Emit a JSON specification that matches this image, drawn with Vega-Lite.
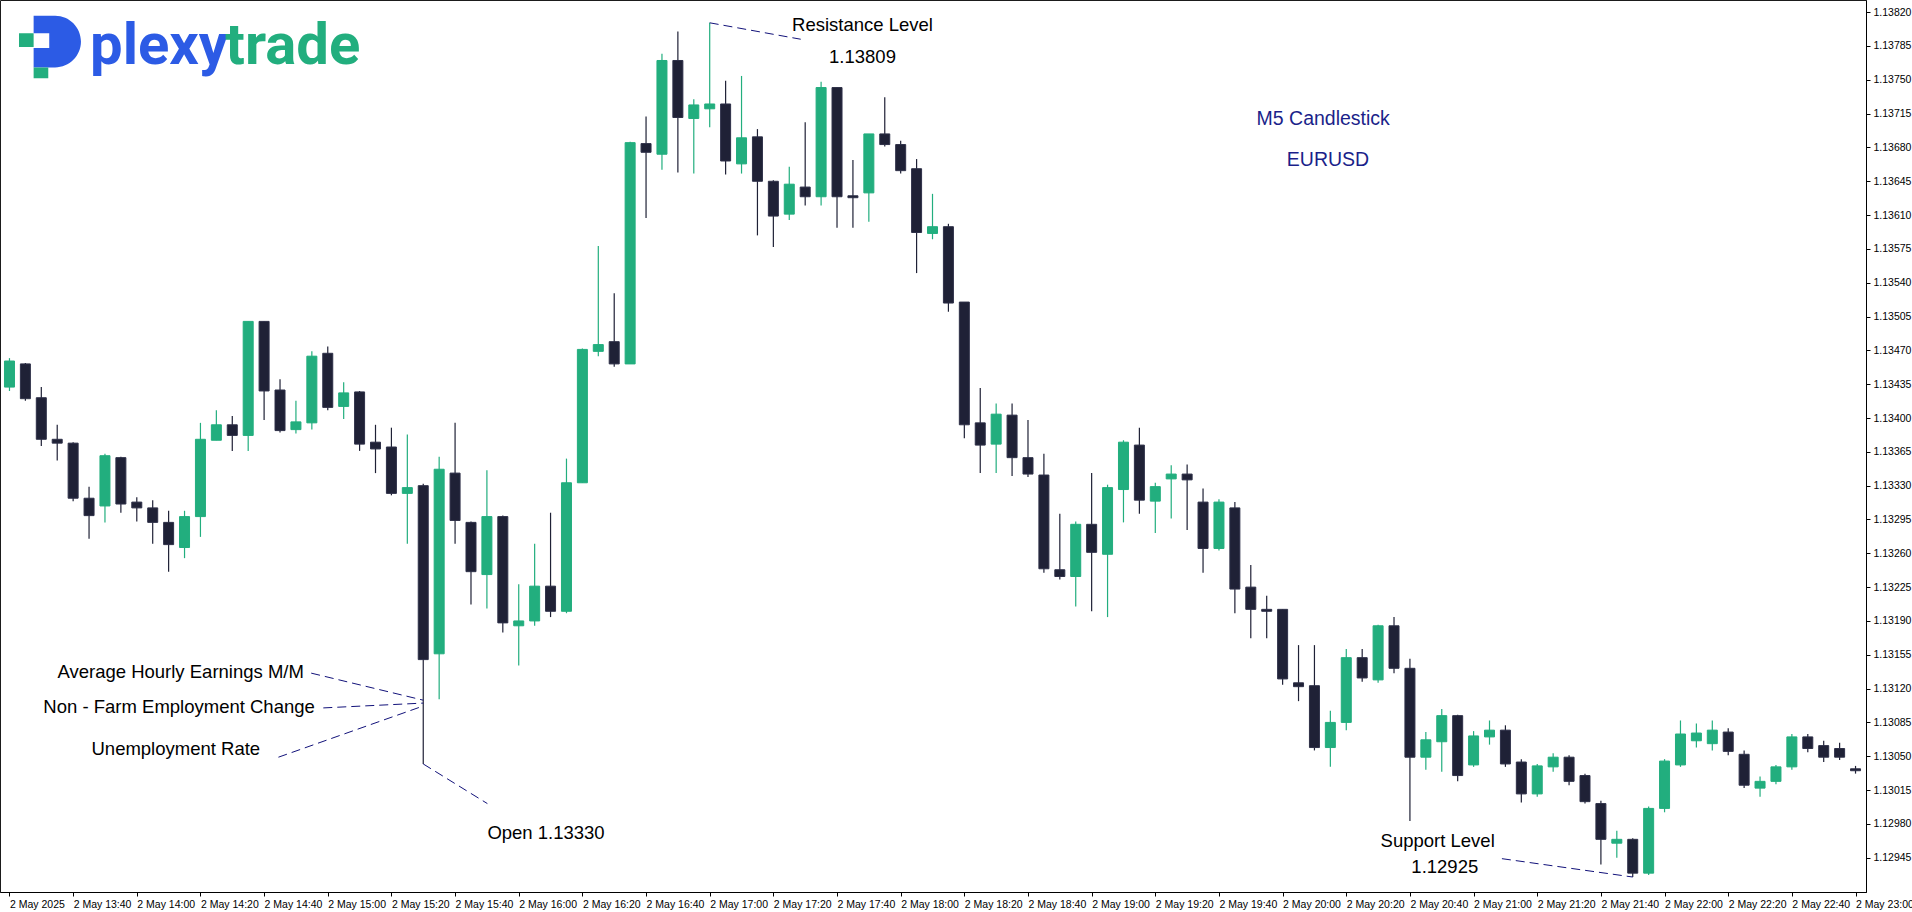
{
  "$schema": "https://vega.github.io/schema/vega-lite/v6.json",
  "width": 1866,
  "height": 892,
  "autosize": {"type": "none"},
  "padding": {"left": 0, "top": 0, "right": 46, "bottom": 20},
  "background": "white",
  "config": {
    "view": {"stroke": "#1b1b1b", "strokeWidth": 1},
    "font": "Liberation Sans"
  },
  "resolve": {"axis": {"x": "independent", "y": "independent"}},
  "datasets": {
    "candles": [
      {"t":"2025-05-02T13:20:00Z","o":1.13432,"h":1.13462,"l":1.13428,"c":1.13459},
      {"t":"2025-05-02T13:25:00Z","o":1.13456,"h":1.13457,"l":1.13418,"c":1.13420},
      {"t":"2025-05-02T13:30:00Z","o":1.13421,"h":1.13432,"l":1.13371,"c":1.13378},
      {"t":"2025-05-02T13:35:00Z","o":1.13378,"h":1.13393,"l":1.13356,"c":1.13374},
      {"t":"2025-05-02T13:40:00Z","o":1.13374,"h":1.13375,"l":1.13314,"c":1.13317},
      {"t":"2025-05-02T13:45:00Z","o":1.13317,"h":1.13329,"l":1.13275,"c":1.13299},
      {"t":"2025-05-02T13:50:00Z","o":1.13309,"h":1.13363,"l":1.13292,"c":1.13361},
      {"t":"2025-05-02T13:55:00Z","o":1.13359,"h":1.13360,"l":1.13302,"c":1.13311},
      {"t":"2025-05-02T14:00:00Z","o":1.13313,"h":1.13318,"l":1.13293,"c":1.13307},
      {"t":"2025-05-02T14:05:00Z","o":1.13307,"h":1.13315,"l":1.13270,"c":1.13292},
      {"t":"2025-05-02T14:10:00Z","o":1.13292,"h":1.13304,"l":1.13241,"c":1.13269},
      {"t":"2025-05-02T14:15:00Z","o":1.13266,"h":1.13304,"l":1.13255,"c":1.13298},
      {"t":"2025-05-02T14:20:00Z","o":1.13298,"h":1.13395,"l":1.13277,"c":1.13378},
      {"t":"2025-05-02T14:25:00Z","o":1.13377,"h":1.13408,"l":1.13377,"c":1.13393},
      {"t":"2025-05-02T14:30:00Z","o":1.13393,"h":1.13402,"l":1.13366,"c":1.13382},
      {"t":"2025-05-02T14:35:00Z","o":1.13382,"h":1.13500,"l":1.13366,"c":1.13500},
      {"t":"2025-05-02T14:40:00Z","o":1.13500,"h":1.13500,"l":1.13398,"c":1.13428},
      {"t":"2025-05-02T14:45:00Z","o":1.13429,"h":1.13440,"l":1.13385,"c":1.13387},
      {"t":"2025-05-02T14:50:00Z","o":1.13388,"h":1.13418,"l":1.13384,"c":1.13396},
      {"t":"2025-05-02T14:55:00Z","o":1.13395,"h":1.13469,"l":1.13388,"c":1.13464},
      {"t":"2025-05-02T15:00:00Z","o":1.13467,"h":1.13474,"l":1.13408,"c":1.13411},
      {"t":"2025-05-02T15:05:00Z","o":1.13412,"h":1.13437,"l":1.13399,"c":1.13426},
      {"t":"2025-05-02T15:10:00Z","o":1.13427,"h":1.13428,"l":1.13366,"c":1.13373},
      {"t":"2025-05-02T15:15:00Z","o":1.13375,"h":1.13393,"l":1.13343,"c":1.13368},
      {"t":"2025-05-02T15:20:00Z","o":1.13370,"h":1.13390,"l":1.13320,"c":1.13322},
      {"t":"2025-05-02T15:25:00Z","o":1.13322,"h":1.13383,"l":1.13270,"c":1.13328},
      {"t":"2025-05-02T15:30:00Z","o":1.13330,"h":1.13332,"l":1.13042,"c":1.13150},
      {"t":"2025-05-02T15:35:00Z","o":1.13156,"h":1.13360,"l":1.13109,"c":1.13347},
      {"t":"2025-05-02T15:40:00Z","o":1.13343,"h":1.13395,"l":1.13270,"c":1.13294},
      {"t":"2025-05-02T15:45:00Z","o":1.13292,"h":1.13293,"l":1.13207,"c":1.13241},
      {"t":"2025-05-02T15:50:00Z","o":1.13238,"h":1.13346,"l":1.13203,"c":1.13298},
      {"t":"2025-05-02T15:55:00Z","o":1.13298,"h":1.13299,"l":1.13178,"c":1.13188},
      {"t":"2025-05-02T16:00:00Z","o":1.13185,"h":1.13228,"l":1.13144,"c":1.13190},
      {"t":"2025-05-02T16:05:00Z","o":1.13190,"h":1.13270,"l":1.13185,"c":1.13226},
      {"t":"2025-05-02T16:10:00Z","o":1.13226,"h":1.13302,"l":1.13194,"c":1.13200},
      {"t":"2025-05-02T16:15:00Z","o":1.13200,"h":1.13358,"l":1.13198,"c":1.13333},
      {"t":"2025-05-02T16:20:00Z","o":1.13333,"h":1.13472,"l":1.13333,"c":1.13471},
      {"t":"2025-05-02T16:25:00Z","o":1.13469,"h":1.13578,"l":1.13464,"c":1.13476},
      {"t":"2025-05-02T16:30:00Z","o":1.13479,"h":1.13529,"l":1.13453,"c":1.13456},
      {"t":"2025-05-02T16:35:00Z","o":1.13456,"h":1.13686,"l":1.13456,"c":1.13685},
      {"t":"2025-05-02T16:40:00Z","o":1.13684,"h":1.13712,"l":1.13607,"c":1.13675},
      {"t":"2025-05-02T16:45:00Z","o":1.13673,"h":1.13777,"l":1.13657,"c":1.13770},
      {"t":"2025-05-02T16:50:00Z","o":1.13770,"h":1.13800,"l":1.13654,"c":1.13711},
      {"t":"2025-05-02T16:55:00Z","o":1.13710,"h":1.13730,"l":1.13653,"c":1.13724},
      {"t":"2025-05-02T17:00:00Z","o":1.13720,"h":1.13809,"l":1.13701,"c":1.13725},
      {"t":"2025-05-02T17:05:00Z","o":1.13725,"h":1.13749,"l":1.13652,"c":1.13666},
      {"t":"2025-05-02T17:10:00Z","o":1.13663,"h":1.13754,"l":1.13653,"c":1.13690},
      {"t":"2025-05-02T17:15:00Z","o":1.13691,"h":1.13699,"l":1.13589,"c":1.13645},
      {"t":"2025-05-02T17:20:00Z","o":1.13645,"h":1.13646,"l":1.13577,"c":1.13609},
      {"t":"2025-05-02T17:25:00Z","o":1.13611,"h":1.13660,"l":1.13605,"c":1.13642},
      {"t":"2025-05-02T17:30:00Z","o":1.13639,"h":1.13706,"l":1.13620,"c":1.13629},
      {"t":"2025-05-02T17:35:00Z","o":1.13629,"h":1.13748,"l":1.13620,"c":1.13742},
      {"t":"2025-05-02T17:40:00Z","o":1.13742,"h":1.13742,"l":1.13597,"c":1.13629},
      {"t":"2025-05-02T17:45:00Z","o":1.13630,"h":1.13667,"l":1.13597,"c":1.13628},
      {"t":"2025-05-02T17:50:00Z","o":1.13633,"h":1.13694,"l":1.13603,"c":1.13694},
      {"t":"2025-05-02T17:55:00Z","o":1.13694,"h":1.13732,"l":1.13681,"c":1.13683},
      {"t":"2025-05-02T18:00:00Z","o":1.13683,"h":1.13687,"l":1.13653,"c":1.13656},
      {"t":"2025-05-02T18:05:00Z","o":1.13658,"h":1.13668,"l":1.13550,"c":1.13592},
      {"t":"2025-05-02T18:10:00Z","o":1.13591,"h":1.13632,"l":1.13585,"c":1.13598},
      {"t":"2025-05-02T18:15:00Z","o":1.13598,"h":1.13601,"l":1.13510,"c":1.13519},
      {"t":"2025-05-02T18:20:00Z","o":1.13520,"h":1.13520,"l":1.13379,"c":1.13393},
      {"t":"2025-05-02T18:25:00Z","o":1.13395,"h":1.13431,"l":1.13343,"c":1.13372},
      {"t":"2025-05-02T18:30:00Z","o":1.13373,"h":1.13415,"l":1.13343,"c":1.13404},
      {"t":"2025-05-02T18:35:00Z","o":1.13403,"h":1.13415,"l":1.13340,"c":1.13359},
      {"t":"2025-05-02T18:40:00Z","o":1.13359,"h":1.13398,"l":1.13339,"c":1.13342},
      {"t":"2025-05-02T18:45:00Z","o":1.13341,"h":1.13363,"l":1.13240,"c":1.13244},
      {"t":"2025-05-02T18:50:00Z","o":1.13243,"h":1.13301,"l":1.13233,"c":1.13236},
      {"t":"2025-05-02T18:55:00Z","o":1.13236,"h":1.13293,"l":1.13205,"c":1.13290},
      {"t":"2025-05-02T19:00:00Z","o":1.13290,"h":1.13343,"l":1.13200,"c":1.13261},
      {"t":"2025-05-02T19:05:00Z","o":1.13259,"h":1.13331,"l":1.13194,"c":1.13328},
      {"t":"2025-05-02T19:10:00Z","o":1.13326,"h":1.13377,"l":1.13292,"c":1.13375},
      {"t":"2025-05-02T19:15:00Z","o":1.13372,"h":1.13390,"l":1.13301,"c":1.13315},
      {"t":"2025-05-02T19:20:00Z","o":1.13314,"h":1.13333,"l":1.13281,"c":1.13329},
      {"t":"2025-05-02T19:25:00Z","o":1.13337,"h":1.13351,"l":1.13296,"c":1.13342},
      {"t":"2025-05-02T19:30:00Z","o":1.13342,"h":1.13352,"l":1.13284,"c":1.13336},
      {"t":"2025-05-02T19:35:00Z","o":1.13313,"h":1.13327,"l":1.13240,"c":1.13265},
      {"t":"2025-05-02T19:40:00Z","o":1.13265,"h":1.13316,"l":1.13263,"c":1.13313},
      {"t":"2025-05-02T19:45:00Z","o":1.13307,"h":1.13313,"l":1.13198,"c":1.13223},
      {"t":"2025-05-02T19:50:00Z","o":1.13225,"h":1.13248,"l":1.13172,"c":1.13202},
      {"t":"2025-05-02T19:55:00Z","o":1.13202,"h":1.13216,"l":1.13172,"c":1.13200},
      {"t":"2025-05-02T20:00:00Z","o":1.13202,"h":1.13202,"l":1.13124,"c":1.13130},
      {"t":"2025-05-02T20:05:00Z","o":1.13126,"h":1.13165,"l":1.13107,"c":1.13122},
      {"t":"2025-05-02T20:10:00Z","o":1.13123,"h":1.13165,"l":1.13056,"c":1.13059},
      {"t":"2025-05-02T20:15:00Z","o":1.13059,"h":1.13097,"l":1.13039,"c":1.13085},
      {"t":"2025-05-02T20:20:00Z","o":1.13085,"h":1.13161,"l":1.13077,"c":1.13152},
      {"t":"2025-05-02T20:25:00Z","o":1.13152,"h":1.13161,"l":1.13127,"c":1.13131},
      {"t":"2025-05-02T20:30:00Z","o":1.13129,"h":1.13186,"l":1.13126,"c":1.13185},
      {"t":"2025-05-02T20:35:00Z","o":1.13185,"h":1.13194,"l":1.13136,"c":1.13141},
      {"t":"2025-05-02T20:40:00Z","o":1.13141,"h":1.13151,"l":1.12983,"c":1.13049},
      {"t":"2025-05-02T20:45:00Z","o":1.13049,"h":1.13075,"l":1.13036,"c":1.13067},
      {"t":"2025-05-02T20:50:00Z","o":1.13065,"h":1.13099,"l":1.13034,"c":1.13092},
      {"t":"2025-05-02T20:55:00Z","o":1.13092,"h":1.13093,"l":1.13024,"c":1.13030},
      {"t":"2025-05-02T21:00:00Z","o":1.13041,"h":1.13076,"l":1.13039,"c":1.13071},
      {"t":"2025-05-02T21:05:00Z","o":1.13070,"h":1.13087,"l":1.13062,"c":1.13077},
      {"t":"2025-05-02T21:10:00Z","o":1.13077,"h":1.13082,"l":1.13039,"c":1.13042},
      {"t":"2025-05-02T21:15:00Z","o":1.13044,"h":1.13047,"l":1.13002,"c":1.13011},
      {"t":"2025-05-02T21:20:00Z","o":1.13011,"h":1.13042,"l":1.13008,"c":1.13040},
      {"t":"2025-05-02T21:25:00Z","o":1.13039,"h":1.13053,"l":1.13034,"c":1.13049},
      {"t":"2025-05-02T21:30:00Z","o":1.13049,"h":1.13051,"l":1.13020,"c":1.13024},
      {"t":"2025-05-02T21:35:00Z","o":1.13030,"h":1.13032,"l":1.13001,"c":1.13003},
      {"t":"2025-05-02T21:40:00Z","o":1.13001,"h":1.13004,"l":1.12938,"c":1.12964},
      {"t":"2025-05-02T21:45:00Z","o":1.12960,"h":1.12973,"l":1.12945,"c":1.12964},
      {"t":"2025-05-02T21:50:00Z","o":1.12964,"h":1.12965,"l":1.12925,"c":1.12929},
      {"t":"2025-05-02T21:55:00Z","o":1.12929,"h":1.12998,"l":1.12927,"c":1.12996},
      {"t":"2025-05-02T22:00:00Z","o":1.12996,"h":1.13047,"l":1.12992,"c":1.13045},
      {"t":"2025-05-02T22:05:00Z","o":1.13041,"h":1.13087,"l":1.13039,"c":1.13073},
      {"t":"2025-05-02T22:10:00Z","o":1.13066,"h":1.13084,"l":1.13059,"c":1.13074},
      {"t":"2025-05-02T22:15:00Z","o":1.13063,"h":1.13087,"l":1.13056,"c":1.13077},
      {"t":"2025-05-02T22:20:00Z","o":1.13075,"h":1.13079,"l":1.13051,"c":1.13055},
      {"t":"2025-05-02T22:25:00Z","o":1.13052,"h":1.13056,"l":1.13017,"c":1.13020},
      {"t":"2025-05-02T22:30:00Z","o":1.13017,"h":1.13029,"l":1.13008,"c":1.13024},
      {"t":"2025-05-02T22:35:00Z","o":1.13024,"h":1.13041,"l":1.13021,"c":1.13039},
      {"t":"2025-05-02T22:40:00Z","o":1.13039,"h":1.13073,"l":1.13036,"c":1.13070},
      {"t":"2025-05-02T22:45:00Z","o":1.13070,"h":1.13073,"l":1.13054,"c":1.13058},
      {"t":"2025-05-02T22:50:00Z","o":1.13061,"h":1.13066,"l":1.13044,"c":1.13049},
      {"t":"2025-05-02T22:55:00Z","o":1.13058,"h":1.13064,"l":1.13046,"c":1.13049},
      {"t":"2025-05-02T23:00:00Z","o":1.13037,"h":1.13040,"l":1.13032,"c":1.13035}
    ],
    "lines": [
      {"t":"2025-05-02T17:00:00Z","p":1.13809,"t2":"2025-05-02T17:28:36Z","p2":1.13792},
      {"t":"2025-05-02T14:54:48Z","p":1.13136,"t2":"2025-05-02T15:30:00Z","p2":1.13108},
      {"t":"2025-05-02T14:58:36Z","p":1.13100,"t2":"2025-05-02T15:30:00Z","p2":1.13105},
      {"t":"2025-05-02T14:44:30Z","p":1.13049,"t2":"2025-05-02T15:30:00Z","p2":1.13102},
      {"t":"2025-05-02T15:30:00Z","p":1.13042,"t2":"2025-05-02T15:50:09Z","p2":1.13001},
      {"t":"2025-05-02T21:08:54Z","p":1.12944,"t2":"2025-05-02T21:50:00Z","p2":1.12925}
    ],
    "notes": [
      {"t":"2025-05-02T17:48:00Z","p":1.13807,"text":"Resistance Level","side":"center"},
      {"t":"2025-05-02T17:48:00Z","p":1.13774,"text":"1.13809","side":"center"},
      {"t":"2025-05-02T20:50:57Z","p":1.12935,"text":"1.12925","side":"center"},
      {"t":"2025-05-02T14:52:30Z","p":1.13137,"text":"Average Hourly Earnings M/M","side":"right"},
      {"t":"2025-05-02T14:55:56Z","p":1.13101,"text":"Non - Farm Employment Change","side":"right"},
      {"t":"2025-05-02T14:38:45Z","p":1.13058,"text":"Unemployment Rate","side":"right"},
      {"t":"2025-05-02T15:50:09Z","p":1.12971,"text":"Open 1.13330","side":"left"},
      {"t":"2025-05-02T20:30:47Z","p":1.12962,"text":"Support Level","side":"left"}
    ],
    "titles": [
      {"t":"2025-05-02T20:12:45Z","p":1.13709,"text":"M5 Candlestick"},
      {"t":"2025-05-02T20:14:15Z","p":1.13667,"text":"EURUSD"}
    ],
    "logo": [
      {"t":"2025-05-02T13:32:39Z","p":1.13784}
    ],
    "logotext": [
      {"t":"2025-05-02T13:45:19Z","p":1.13766,"text":"plexy"},
      {"t":"2025-05-02T14:27:49Z","p":1.13766,"text":"trade"}
    ]
  },
  "layer": [
    {
      "data": {"name": "candles"},
      "mark": {"type": "rule", "strokeWidth": 1.2},
      "encoding": {
        "x": {
          "field": "t", "type": "temporal", "title": null,
          "scale": {"type": "utc", "domain": [1746191915625, 1746226903125]},
          "axis": {
            "orient": "bottom", "title": null, "grid": false,
            "values": [1746192000000,1746193200000,1746194400000,1746195600000,1746196800000,1746198000000,1746199200000,1746200400000,1746201600000,1746202800000,1746204000000,1746205200000,1746206400000,1746207600000,1746208800000,1746210000000,1746211200000,1746212400000,1746213600000,1746214800000,1746216000000,1746217200000,1746218400000,1746219600000,1746220800000,1746222000000,1746223200000,1746224400000,1746225600000,1746226800000],
            "labelExpr": "utcFormat(datum.value, '%H:%M') == '13:20' ? '2 May 2025' : utcFormat(datum.value, '%-d %b %H:%M')",
            "labelAlign": "left", "labelBaseline": "top", "labelPadding": 3, "labelOffset": 0,
            "labelFont": "Liberation Sans", "labelFontSize": 10.5, "labelColor": "#000000",
            "labelFlush": false, "labelOverlap": false, "labelBound": false,
            "ticks": true, "tickSize": 4, "tickColor": "#000000",
            "domain": true, "domainColor": "#000000"
          }
        },
        "y": {
          "field": "l", "type": "quantitative", "title": null,
          "scale": {"domain": [1.129095, 1.138326], "zero": false, "nice": false},
          "axis": {
            "orient": "right", "title": null, "grid": false,
            "values": [1.1382,1.13785,1.1375,1.13715,1.1368,1.13645,1.1361,1.13575,1.1354,1.13505,1.1347,1.13435,1.134,1.13365,1.1333,1.13295,1.1326,1.13225,1.1319,1.13155,1.1312,1.13085,1.1305,1.13015,1.1298,1.12945],
            "format": ".5f",
            "labelAlign": "left", "labelBaseline": "middle", "labelPadding": 3,
            "labelFont": "Liberation Sans", "labelFontSize": 10.5, "labelColor": "#000000",
            "labelFlush": false, "labelOverlap": false, "labelBound": false,
            "ticks": true, "tickSize": 4, "tickColor": "#000000",
            "domain": true, "domainColor": "#000000"
          }
        },
        "y2": {"field": "h"},
        "color": {"condition": {"test": "datum.c >= datum.o", "value": "#22AE7E"}, "value": "#1F2136"}
      }
    },
    {
      "data": {"name": "candles"},
      "mark": {"type": "bar", "size": 10, "strokeWidth": 1},
      "encoding": {
        "x": {"field": "t", "type": "temporal", "axis": null, "scale": {"type": "utc", "domain": [1746191915625, 1746226903125]}},
        "y": {"field": "o", "type": "quantitative", "axis": null, "scale": {"domain": [1.129095, 1.138326], "zero": false, "nice": false}},
        "y2": {"field": "c"},
        "fill": {"condition": {"test": "datum.c >= datum.o", "value": "#22AE7E"}, "value": "#1F2136"},
        "stroke": {"condition": {"test": "datum.c >= datum.o", "value": "#22AE7E"}, "value": "#2E3048"}
      }
    },
    {
      "data": {"name": "lines"},
      "mark": {"type": "rule", "strokeWidth": 1, "strokeDash": [9, 5], "color": "#12127A"},
      "encoding": {
        "x": {"field": "t", "type": "temporal", "axis": null, "scale": {"type": "utc", "domain": [1746191915625, 1746226903125]}},
        "y": {"field": "p", "type": "quantitative", "axis": null, "scale": {"domain": [1.129095, 1.138326], "zero": false, "nice": false}},
        "x2": {"field": "t2"},
        "y2": {"field": "p2"}
      }
    },
    {
      "data": {"name": "notes"},
      "transform": [{"filter": "datum.side == 'center'"}],
      "mark": {"type": "text", "align": "center", "baseline": "middle", "font": "Liberation Sans", "fontSize": 18.5, "color": "#000000"},
      "encoding": {
        "x": {"field": "t", "type": "temporal", "axis": null, "scale": {"type": "utc", "domain": [1746191915625, 1746226903125]}},
        "y": {"field": "p", "type": "quantitative", "axis": null, "scale": {"domain": [1.129095, 1.138326], "zero": false, "nice": false}},
        "text": {"field": "text"}
      }
    },
    {
      "data": {"name": "notes"},
      "transform": [{"filter": "datum.side == 'right'"}],
      "mark": {"type": "text", "align": "right", "baseline": "middle", "font": "Liberation Sans", "fontSize": 18.5, "color": "#000000"},
      "encoding": {
        "x": {"field": "t", "type": "temporal", "axis": null, "scale": {"type": "utc", "domain": [1746191915625, 1746226903125]}},
        "y": {"field": "p", "type": "quantitative", "axis": null, "scale": {"domain": [1.129095, 1.138326], "zero": false, "nice": false}},
        "text": {"field": "text"}
      }
    },
    {
      "data": {"name": "notes"},
      "transform": [{"filter": "datum.side == 'left'"}],
      "mark": {"type": "text", "align": "left", "baseline": "middle", "font": "Liberation Sans", "fontSize": 18.5, "color": "#000000"},
      "encoding": {
        "x": {"field": "t", "type": "temporal", "axis": null, "scale": {"type": "utc", "domain": [1746191915625, 1746226903125]}},
        "y": {"field": "p", "type": "quantitative", "axis": null, "scale": {"domain": [1.129095, 1.138326], "zero": false, "nice": false}},
        "text": {"field": "text"}
      }
    },
    {
      "data": {"name": "titles"},
      "mark": {"type": "text", "align": "center", "baseline": "middle", "font": "Liberation Sans", "fontSize": 19.5, "color": "#1B1F8A"},
      "encoding": {
        "x": {"field": "t", "type": "temporal", "axis": null, "scale": {"type": "utc", "domain": [1746191915625, 1746226903125]}},
        "y": {"field": "p", "type": "quantitative", "axis": null, "scale": {"domain": [1.129095, 1.138326], "zero": false, "nice": false}},
        "text": {"field": "text"}
      }
    },
    {
      "data": {"name": "logo"},
      "mark": {"type": "point", "filled": true, "strokeWidth": 0, "opacity": 1, "size": 3900, "color": "#2C5BE5",
               "shape": "M-0.516,-1H0.172A0.828,0.828 0 0 1 0.172,0.656H-0.516V0.031H-0.016V-0.438H-0.516Z"},
      "encoding": {
        "x": {"field": "t", "type": "temporal", "axis": null, "scale": {"type": "utc", "domain": [1746191915625, 1746226903125]}},
        "y": {"field": "p", "type": "quantitative", "axis": null, "scale": {"domain": [1.129095, 1.138326], "zero": false, "nice": false}}
      }
    },
    {
      "data": {"name": "logo"},
      "mark": {"type": "point", "filled": true, "strokeWidth": 0, "opacity": 1, "size": 3900, "color": "#22AE7E",
               "shape": "M-0.984,-0.438H-0.516V0H-0.984ZM-0.516,0.656H-0.047V1H-0.516Z"},
      "encoding": {
        "x": {"field": "t", "type": "temporal", "axis": null, "scale": {"type": "utc", "domain": [1746191915625, 1746226903125]}},
        "y": {"field": "p", "type": "quantitative", "axis": null, "scale": {"domain": [1.129095, 1.138326], "zero": false, "nice": false}}
      }
    },
    {
      "data": {"name": "logotext"},
      "mark": {"type": "text", "align": "left", "baseline": "alphabetic", "font": "Roboto", "fontWeight": "bold", "fontSize": 58},
      "encoding": {
        "x": {"field": "t", "type": "temporal", "axis": null, "scale": {"type": "utc", "domain": [1746191915625, 1746226903125]}},
        "y": {"field": "p", "type": "quantitative", "axis": null, "scale": {"domain": [1.129095, 1.138326], "zero": false, "nice": false}},
        "text": {"field": "text"},
        "color": {"condition": {"test": "datum.text == 'plexy'", "value": "#2C5BE5"}, "value": "#22AE7E"}
      }
    }
  ]
}
